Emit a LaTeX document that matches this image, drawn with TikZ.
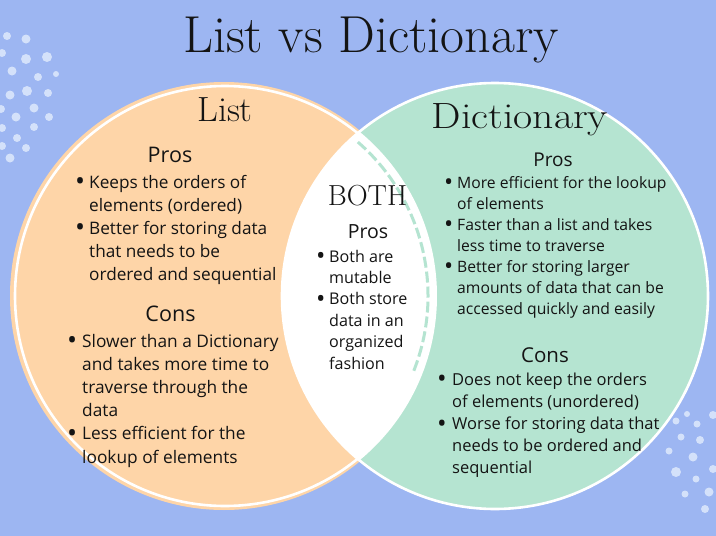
\documentclass[tikz,border=0pt]{standalone}
\usepackage{fontspec}
\usepackage{graphicx}
\newfontfamily\bodyfont{Open Sans}
\definecolor{bgblue}{RGB}{157,182,242}
\definecolor{listorange}{RGB}{254,213,168}
\definecolor{dictgreen}{RGB}{181,228,209}
\definecolor{dotblue}{RGB}{212,225,250}
\definecolor{inkblack}{RGB}{20,20,20}
\newcommand{\blist}[2]{\begin{tabular}[t]{@{}p{#1}@{}l@{}}#2\end{tabular}}
\newcommand{\bul}{\raisebox{-0.17em}{\scalebox{1.55}{\textbullet}}}

\begin{document}
\begin{tikzpicture}[x=1pt,y=-1pt,
    every node/.style={inner sep=0pt, text=inkblack},
    TitleShape/.style={anchor=base, font=\fontsize{52}{56}\selectfont},
    SetShape/.style={anchor=base, font=\fontsize{35}{40}\selectfont},
    HeadShape/.style={anchor=base, font=\bodyfont\fontsize{#1}{24}\selectfont},
    ItemShape/.style={anchor=base west, align=left},
    ringp/.style={draw=white, line width=2.6pt}
]
\useasboundingbox (0,0) rectangle (716,536);
\fill[bgblue] (0,0) rectangle (716,536);
\foreach \x/\y/\r in {7/36/4, 26/39/4.5, 2/53/4, 26/59/5, 47/57/5, 12/71/4.5,
    38/77/4, 56/74/3, 10/95/4.5, 27/91/5, 48/93/4, 1/109/4, 34/108/4.5,
    16/117/4.5, 49/117/4, 34/127/4, 2/128/4, 17/138/4, 26/148/4, 2/146/4,
    10/158/4.5, 687/414/3, 713/415/4, 697/424/3.5, 676/421/3.5, 681/437/3.5,
    700/440/4, 669/451/3.5, 693/457/4.5, 713/469/4, 676/472/5, 696/479/3.5,
    709/492/4.5, 685/494/3.5, 705/509/4}
    \fill[dotblue] (\x,\y) circle (\r);

\fill[listorange] (224,296) circle (214);
\fill[dictgreen] (495,296) circle (213);
\begin{scope}
    \clip (495,296) circle (213);
    \fill[white] (224,296) circle (213);
\end{scope}
\draw[dictgreen, line width=3pt, dash pattern=on 11pt off 4pt]
    (224,296) ++(-49:204) arc (-49:22:204);
\draw[ringp] (225,296) circle (210);
\draw[ringp] (495,296) circle (213);

\node (title) [TitleShape] at (371,52) {\scalebox{1.0}[1]{List vs Dictionary}};
\node (listhead) [SetShape] at (225,121) {\scalebox{1.03}[1]{List}};
\node (dicthead) [SetShape] at (520,128) {\scalebox{1.14}[1]{\fontsize{36.5}{40}\selectfont Dictionary}};
\node (bothhead) [anchor=base, font=\fontsize{29}{32}\selectfont] at (367.5,205)
    {\scalebox{1.0}[1]{BOTH}};

\node (listpros) [HeadShape=21.5] at (170,162) {Pros};
\node (listprositems) [ItemShape, font=\bodyfont\fontsize{17.2}{23}\selectfont] at (75,188)
    {\blist{14pt}{\bul & Keeps the orders of\\
    & elements (ordered)\\
    \bul & Better for storing data\\
    & that needs to be\\
    & ordered and sequential}};
\node (listcons) [HeadShape=21.5] at (170.5,321) {Cons};
\node (listconsitems) [ItemShape, font=\bodyfont\fontsize{17.3}{23.2}\selectfont] at (67,347)
    {\blist{15pt}{\bul & Slower than a Dictionary\\
    & and takes more time to\\
    & traverse through the\\
    & data\\
    \bul & Less efficient for the\\
    & lookup of elements}};

\node (bothpros) [HeadShape=19.5] at (368,238) {Pros};
\node (bothprositems) [ItemShape, font=\bodyfont\fontsize{16.1}{21.4}\selectfont] at (316,262)
    {\blist{13pt}{\bul & Both are\\
    & mutable\\
    \bul & Both store\\
    & data in an\\
    & organized\\
    & fashion}};

\node (dictpros) [HeadShape=19] at (553,166) {Pros};
\node (dictprositems) [ItemShape, font=\bodyfont\fontsize{15.7}{21}\selectfont] at (444,188)
    {\blist{13pt}{\bul & More efficient for the lookup\\
    & of elements\\
    \bul & Faster than a list and takes\\
    & less time to traverse\\
    \bul & Better for storing larger\\
    & amounts of data that can be\\
    & accessed quickly and easily}};
\node (dictcons) [HeadShape=20.5] at (545,362) {Cons};
\node (dictconsitems) [ItemShape, font=\bodyfont\fontsize{16.5}{22.2}\selectfont] at (437,385)
    {\blist{15pt}{\bul & Does not keep the orders\\
    & of elements (unordered)\\
    \bul & Worse for storing data that\\
    & needs to be ordered and\\
    & sequential}};
\end{tikzpicture}
\end{document}
